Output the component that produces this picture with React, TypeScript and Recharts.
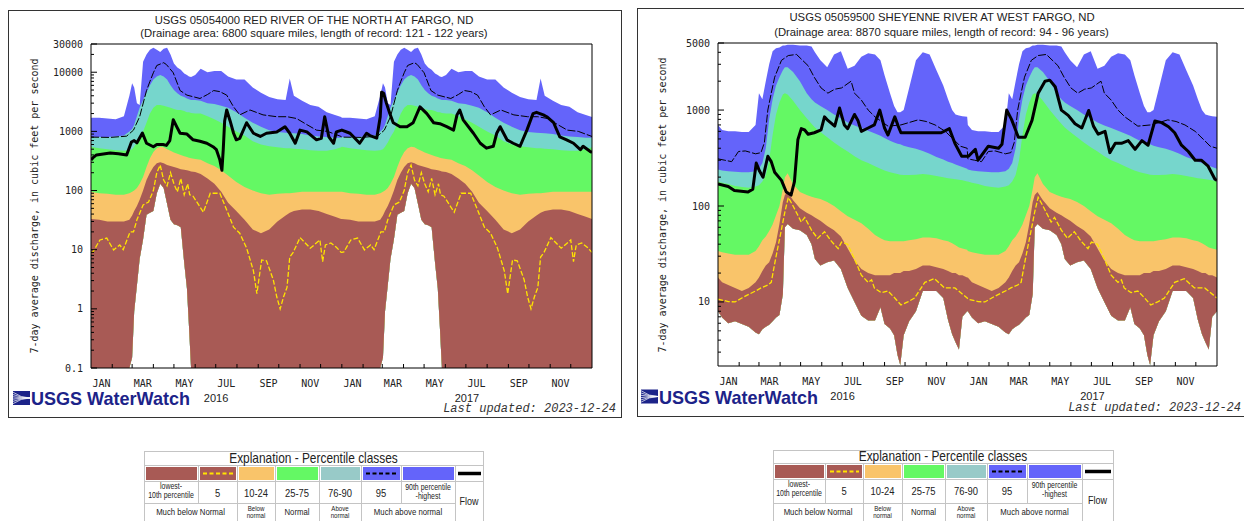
import React from 'react';
import { ComposedChart, Area, Line, XAxis, YAxis, CartesianGrid, ReferenceArea } from 'recharts';

// ---------- calendar ----------
const MONTH_DAYS = [
  [31, 29, 31, 30, 31, 30, 31, 31, 30, 31, 30, 31],
  [31, 28, 31, 30, 31, 30, 31, 31, 30, 31, 30, 31],
];
const MONTH_NAMES = ['JAN', 'FEB', 'MAR', 'APR', 'MAY', 'JUN', 'JUL', 'AUG', 'SEP', 'OCT', 'NOV', 'DEC'];
const YEARS = ['2016', '2017'];

// ---------- Red River of the North at Fargo (05054000) ----------
// day-of-year grid for the daily percentile envelope
const FARGO_DOY = [0, 12, 24, 36, 48, 56, 60, 63, 67, 71, 76, 81, 86, 91, 96, 101, 106, 111, 116, 121, 126, 131, 136, 140, 143, 146, 152, 160, 170, 180, 190, 200, 212, 224, 236, 248, 260, 272, 284, 290, 296, 308, 320, 332, 344, 356, 365];
const FARGO_MIN = [0.1, 0.1, 0.1, 0.1, 0.1, 0.1, 0.15, 0.9, 2.5, 7, 15, 39, 42, 45, 90, 130, 110, 60, 32, 27, 26, 24, 6, 2.2, 0.5, 0.1, 0.1, 0.1, 0.1, 0.1, 0.1, 0.1, 0.1, 0.1, 0.1, 0.1, 0.1, 0.1, 0.1, 0.1, 0.1, 0.1, 0.1, 0.1, 0.1, 0.1, 0.1];
const FARGO_P10 = [33, 32, 30, 30, 30, 32, 38, 45, 55, 70, 100, 150, 200, 250, 290, 300, 290, 270, 260, 250, 240, 230, 225, 220, 215, 210, 205, 190, 160, 130, 95, 62, 45, 32, 22, 19, 22, 30, 38, 42, 45, 48, 48, 45, 40, 36, 33];
const FARGO_P25 = [95, 90, 88, 85, 85, 90, 95, 100, 110, 130, 170, 250, 350, 450, 520, 550, 540, 500, 470, 440, 420, 400, 380, 370, 360, 350, 340, 330, 290, 260, 220, 180, 140, 115, 100, 90, 85, 88, 90, 90, 92, 95, 95, 95, 95, 95, 95];
const FARGO_P75 = [550, 520, 500, 480, 470, 480, 500, 550, 650, 800, 1000, 1400, 2000, 2500, 2800, 2800, 2700, 2600, 2500, 2400, 2300, 2300, 2200, 2100, 2100, 2050, 2000, 2000, 1800, 1600, 1400, 1200, 1000, 850, 680, 600, 560, 540, 520, 520, 510, 500, 480, 470, 470, 500, 540];
const FARGO_P90 = [800, 800, 800, 820, 850, 1000, 1100, 1300, 1800, 2500, 3400, 4500, 6000, 7500, 8500, 9000, 8500, 7500, 6000, 5000, 4400, 4000, 3800, 3600, 3500, 3400, 3400, 3300, 3000, 2900, 2700, 2500, 2100, 1700, 1400, 1200, 1050, 980, 950, 940, 930, 900, 850, 820, 800, 780, 780];
const FARGO_MAX = [1700, 1700, 1650, 1600, 1800, 4000, 6500, 5500, 3000, 2800, 15000, 20000, 24000, 26000, 24000, 22000, 25000, 26000, 20000, 14000, 12000, 11000, 9500, 9000, 8500, 8300, 9000, 11500, 10000, 10500, 10500, 8500, 7500, 7500, 5500, 4500, 3800, 3500, 3400, 7800, 4000, 3300, 2800, 2600, 2100, 1900, 1750];
// [day-of-year, cfs]
const FARGO_P5: [number, number][] = [[0, 9], [3, 9.2], [13, 14.6], [23, 15.7], [33, 9.9], [42, 12], [47, 10], [57, 20], [62, 20], [67, 32], [76, 57], [84, 64], [91, 100], [96, 200], [101, 270], [106, 150], [111, 120], [116, 200], [121, 130], [126, 95], [131, 160], [136, 85], [141, 130], [144, 85], [149, 80], [164, 43], [174, 90], [188, 90], [198, 47], [208, 24], [217, 19], [227, 10.7], [237, 4.4], [242, 1.8], [249, 6.7], [256, 6.5], [266, 3.1], [271, 1.6], [276, 1.0], [281, 1.6], [286, 2.3], [290, 7.5], [295, 9], [305, 16], [320, 10.6], [334, 14.6], [338, 6.3], [342, 12], [350, 13], [358, 11], [365, 9]];
const FARGO_P95: [number, number][] = [[0, 800], [28, 790], [52, 830], [62, 1050], [71, 1770], [81, 4900], [86, 7000], [91, 9800], [96, 13000], [106, 14500], [110, 13500], [120, 9800], [130, 4900], [140, 4100], [159, 3600], [170, 4200], [179, 4900], [188, 4700], [198, 4100], [208, 2600], [217, 1900], [232, 2300], [251, 1900], [271, 1770], [286, 1770], [300, 1650], [315, 1300], [329, 1050], [345, 1000], [365, 820]];
// [day since 2016-01-01, cfs]
const FARGO_FLOW: [number, number][] = [[0, 330], [3, 360], [8, 400], [28, 430], [40, 420], [52, 400], [59, 660], [63, 700], [67, 640], [75, 940], [81, 630], [91, 550], [96, 600], [105, 600], [110, 580], [115, 700], [120, 1570], [125, 1200], [130, 930], [140, 900], [149, 720], [159, 680], [169, 630], [178, 550], [183, 490], [188, 330], [191, 220], [193, 500], [195, 1500], [198, 2300], [203, 1500], [208, 930], [212, 720], [217, 760], [227, 1400], [237, 930], [247, 820], [256, 930], [271, 980], [283, 1200], [290, 930], [298, 630], [305, 1050], [315, 980], [329, 720], [336, 760], [341, 1770], [347, 810], [354, 630], [358, 980], [366, 1050], [378, 930], [392, 630], [402, 930], [407, 850], [417, 770], [422, 1770], [424, 4600], [427, 4400], [431, 3000], [436, 2000], [441, 1400], [451, 1200], [461, 1200], [470, 1400], [480, 2600], [490, 2000], [500, 1400], [509, 1350], [519, 1200], [529, 1050], [534, 1900], [538, 2300], [543, 1570], [558, 930], [568, 630], [577, 520], [587, 560], [592, 930], [597, 1200], [607, 720], [616, 630], [626, 560], [636, 1050], [645, 2000], [650, 2100], [660, 1900], [665, 1770], [675, 1400], [684, 810], [694, 720], [704, 630], [714, 490], [718, 560], [728, 460], [731, 440]];

// ---------- Sheyenne River at West Fargo (05059500) ----------
const WF_DOY = [0, 6, 15, 25, 35, 45, 55, 60, 65, 70, 75, 80, 85, 90, 95, 98, 102, 110, 120, 130, 137, 142, 150, 160, 170, 180, 190, 200, 210, 220, 230, 238, 244, 252, 258, 263, 267, 272, 280, 290, 300, 310, 320, 330, 337, 343, 348, 353, 358, 365];
const WF_MIN = [8, 6.9, 6, 6.3, 5.9, 5.5, 4.8, 4.6, 5.2, 5.5, 5.8, 6.3, 6.9, 7.3, 12, 60, 65, 58, 56, 50, 40, 28, 24, 26, 27, 22, 14, 10, 7.2, 6.4, 6.4, 8.8, 5.9, 5.3, 4.5, 2.8, 2.2, 4.5, 6.3, 8, 13, 13, 13, 11, 6.5, 4.6, 3.8, 3.2, 7, 8];
const WF_P10 = [18, 16, 15, 14, 13, 14, 16, 18, 21, 24, 26, 32, 42, 65, 110, 130, 140, 115, 95, 85, 80, 76, 70, 62, 56, 48, 36, 27, 22, 20, 19, 19, 19, 19, 20, 20, 20, 21, 21, 22, 24, 24, 23, 22, 21, 20, 20, 19, 19, 18];
const WF_P25 = [34, 33, 32, 31, 31, 31, 34, 38, 44, 48, 55, 64, 80, 100, 150, 200, 220, 170, 140, 130, 125, 122, 118, 110, 100, 88, 78, 72, 66, 58, 50, 46, 44, 43, 43, 43, 43, 43, 44, 45, 47, 47, 46, 44, 43, 41, 39, 37, 36, 35];
const WF_P75 = [180, 175, 170, 162, 158, 155, 160, 165, 180, 210, 300, 550, 900, 1200, 1450, 1500, 1450, 1250, 1000, 820, 720, 660, 590, 520, 460, 410, 370, 330, 300, 280, 260, 245, 235, 225, 220, 215, 212, 210, 210, 212, 215, 212, 205, 200, 195, 192, 190, 188, 185, 180];
const WF_P90 = [240, 235, 230, 228, 225, 225, 230, 245, 280, 400, 800, 1300, 1800, 2200, 2600, 2800, 2800, 2500, 2000, 1500, 1300, 1200, 1100, 1000, 900, 820, 740, 690, 650, 610, 570, 540, 510, 480, 460, 445, 440, 425, 410, 395, 375, 350, 325, 305, 290, 280, 270, 262, 255, 245];
const WF_MAX = [700, 620, 600, 600, 590, 590, 700, 1500, 1300, 2000, 3000, 4100, 4400, 4500, 4700, 4700, 4800, 4800, 4700, 4700, 4600, 4000, 3300, 2800, 3800, 4100, 2700, 2900, 3600, 3900, 3800, 3300, 2300, 1500, 1100, 950, 950, 1000, 1700, 3300, 4000, 3800, 2600, 1800, 1300, 1000, 900, 880, 860, 850];
const WF_P5: [number, number][] = [[0, 10.7], [15, 10.1], [25, 10], [35, 11], [45, 12], [55, 13], [63, 14], [73, 15], [78, 16], [83, 25], [88, 38], [93, 57], [98, 87], [103, 123], [110, 100], [117, 80], [122, 68], [127, 76], [137, 56], [146, 46], [156, 54], [166, 43], [176, 36], [181, 42], [190, 40], [200, 28], [210, 19], [220, 16], [225, 17], [229, 14], [239, 12.5], [249, 13], [259, 11], [268, 9.3], [278, 10], [288, 11], [303, 16], [317, 17.5], [332, 14], [347, 14], [365, 11]];
const WF_P95: [number, number][] = [[0, 310], [10, 300], [20, 290], [30, 370], [40, 375], [55, 350], [63, 360], [68, 460], [73, 1000], [78, 1500], [83, 2200], [93, 3300], [103, 3700], [115, 3800], [132, 2900], [141, 2200], [151, 1700], [161, 1500], [171, 1650], [181, 1700], [195, 2000], [200, 1500], [210, 1270], [220, 1000], [230, 850], [249, 680], [268, 700], [293, 790], [305, 760], [318, 700], [333, 600], [347, 480], [355, 420], [365, 400]];
const WF_FLOW: [number, number][] = [[0, 170], [15, 160], [24, 145], [44, 140], [51, 150], [56, 280], [61, 230], [66, 200], [73, 330], [78, 290], [83, 225], [93, 185], [100, 140], [107, 130], [112, 180], [117, 490], [122, 640], [127, 620], [132, 560], [141, 580], [151, 620], [156, 850], [161, 780], [171, 680], [178, 1050], [185, 700], [190, 640], [200, 900], [205, 780], [210, 600], [220, 650], [229, 700], [237, 1000], [244, 650], [249, 550], [259, 850], [264, 680], [268, 580], [288, 580], [307, 580], [327, 580], [339, 640], [347, 450], [357, 330], [367, 330], [377, 390], [381, 300], [396, 420], [411, 400], [416, 440], [423, 1000], [430, 800], [440, 520], [450, 520], [460, 780], [469, 1500], [479, 2000], [486, 2050], [494, 1750], [503, 1000], [513, 880], [523, 720], [533, 650], [543, 990], [550, 680], [557, 560], [567, 600], [574, 360], [582, 450], [591, 450], [601, 480], [611, 390], [621, 480], [630, 430], [640, 770], [650, 740], [660, 670], [669, 580], [679, 430], [689, 370], [699, 300], [708, 300], [718, 260], [728, 190], [731, 185]];

// ---------- axis labels ----------
const FARGO_Y_LABELS = [0.1, 1, 10, 100, 1000, 10000, 30000];
const WF_Y_LABELS = [10, 100, 1000, 5000];

// ---------- colours ----------
const C_BROWN = '#a85a55';
const C_ORANGE = '#f9c46a';
const C_GREEN = '#64f864';
const C_TEAL = '#76d6cc';
const C_BLUE = '#6464fa';
const C_YELLOW = '#ffe400';

const FONT_SANS = "'Liberation Sans', Arial, Helvetica, sans-serif";
const FONT_MONO = "'DejaVu Sans Mono', monospace";
const FONT_COURIER = "'Liberation Mono', 'Courier New', monospace";

// ---------- derived calendar ticks ----------
const YEAR_STARTS: number[] = [];
const MONTH_STARTS: number[] = [];
type XInfo = { kind: 'mark' | 'month' | 'year'; text?: string };
const X_INFO = new Map<number, XInfo>();
let dayAcc = 0;
MONTH_DAYS.forEach((months, yi) => {
  YEAR_STARTS.push(dayAcc);
  months.forEach((len, m) => {
    MONTH_STARTS.push(dayAcc);
    if (dayAcc > 0) X_INFO.set(dayAcc, { kind: 'mark' });
    if (m % 2 === 0) X_INFO.set(dayAcc + len / 2, { kind: 'month', text: MONTH_NAMES[m] });
    dayAcc += len;
  });
  X_INFO.set(YEAR_STARTS[yi] + 182.5, { kind: 'year', text: YEARS[yi] });
});
const TOTAL_DAYS = dayAcc;
const X_TICKS = Array.from(X_INFO.keys()).sort((a, b) => a - b);
const GRID_DAYS = MONTH_STARTS.filter((d) => d > 0 && !YEAR_STARTS.includes(d));
const YEAR_LINES = YEAR_STARTS.filter((d) => d > 0);

function logTicks(lo: number, hi: number, majors: number[]) {
  const out: number[] = [];
  for (let dec = Math.pow(10, Math.floor(Math.log10(lo))); dec < hi; dec *= 10) {
    for (let m = 1; m < 10; m++) {
      const v = dec * m;
      if (v >= lo * 0.999 && v <= hi * 1.001) out.push(v);
    }
  }
  majors.forEach((v) => { if (!out.some((o) => Math.abs(o - v) / v < 1e-6)) out.push(v); });
  return out.sort((a, b) => a - b);
}

// ---------- table builders ----------
function buildBands(doy: number[], mn: number[], p10: number[], p25: number[], p75: number[], p90: number[], mx: number[]) {
  const rows: any[] = [];
  YEAR_STARTS.forEach((start) => {
    doy.forEach((d, i) => {
      rows.push({
        day: start + d,
        blue: [mn[i], mx[i]],
        teal: [mn[i], p90[i]],
        green: [mn[i], p75[i]],
        orange: [mn[i], p25[i]],
        brown: [mn[i], p10[i]],
      });
    });
  });
  return rows;
}
function buildYearly(pairs: [number, number][]) {
  const rows: { day: number; v: number }[] = [];
  YEAR_STARTS.forEach((start) => pairs.forEach(([d, v]) => rows.push({ day: start + d, v })));
  return rows;
}
function buildSeries(pairs: [number, number][]) {
  return pairs.map(([d, v]) => ({ day: d, v }));
}

type Spec = {
  width: number; height: number;
  margin: { top: number; right: number; bottom: number; left: number };
  domain: [number, number];
  yTicks: number[];
  yLabels: number[];
  bands: any[]; p5: any[]; p95: any[]; flow: any[];
};

const FARGO_SPEC: Spec = {
  width: 600, height: 412,
  margin: { top: 44, right: 8, bottom: 14, left: 51 },
  domain: [0.1, 30000],
  yTicks: logTicks(0.1, 30000, FARGO_Y_LABELS),
  yLabels: FARGO_Y_LABELS,
  bands: buildBands(FARGO_DOY, FARGO_MIN, FARGO_P10, FARGO_P25, FARGO_P75, FARGO_P90, FARGO_MAX),
  p5: buildYearly(FARGO_P5),
  p95: buildYearly(FARGO_P95),
  flow: buildSeries(FARGO_FLOW),
};

const WF_SPEC: Spec = {
  width: 600, height: 412,
  margin: { top: 43, right: 13, bottom: 16, left: 48 },
  domain: [2.15, 5000],
  yTicks: logTicks(2.15, 5000, WF_Y_LABELS),
  yLabels: WF_Y_LABELS,
  bands: buildBands(WF_DOY, WF_MIN, WF_P10, WF_P25, WF_P75, WF_P90, WF_MAX),
  p5: buildYearly(WF_P5),
  p95: buildYearly(WF_P95),
  flow: buildSeries(WF_FLOW),
};

// ---------- axis tick renderers ----------
function XTick(props: any) {
  const { x, y, payload } = props;
  const info = X_INFO.get(payload.value);
  if (!info) return <g />;
  if (info.kind === 'mark') return <line x1={x} x2={x} y1={y} y2={y - 4} stroke="#000" strokeWidth={1} />;
  if (info.kind === 'month')
    return <text x={x} y={y + 18.5} textAnchor="middle" fontFamily={FONT_MONO} fontSize={10} fill="#222">{info.text}</text>;
  return <text x={x} y={y + 33.5} textAnchor="middle" fontFamily={FONT_SANS} fontSize={11} fill="#222">{info.text}</text>;
}

function makeYTick(labels: number[]) {
  return (props: any) => {
    const { x, y, payload } = props;
    const major = labels.find((v) => Math.abs(v - payload.value) / v < 1e-6);
    return (
      <g>
        <line x1={x} x2={x + (major !== undefined ? 6 : 3)} y1={y} y2={y} stroke="#000" strokeWidth={1} />
        {major !== undefined && (
          <text x={x - 8} y={y + 3.5} textAnchor="end" fontFamily={FONT_MONO} fontSize={10} fill="#222">{String(major)}</text>
        )}
      </g>
    );
  };
}

// month grid, drawn underneath the percentile chart with the same layout
function GridLayer({ spec }: { spec: Spec }) {
  return (
    <ComposedChart width={spec.width} height={spec.height} data={spec.bands} margin={spec.margin}>
      <CartesianGrid horizontal={false} verticalValues={GRID_DAYS} stroke="#dcdcdc" strokeWidth={2} />
      <CartesianGrid horizontal={false} verticalValues={YEAR_LINES} stroke="#8c8c8c" strokeWidth={2} />
      <XAxis dataKey="day" type="number" domain={[0, TOTAL_DAYS]} allowDataOverflow ticks={GRID_DAYS} interval={0}
        tick={false} tickLine={false} axisLine={false} height={30} />
      <YAxis type="number" scale="log" domain={spec.domain} allowDataOverflow ticks={spec.yTicks}
        tick={false} tickLine={false} axisLine={false} width={40} />
    </ComposedChart>
  );
}

function StationChart({ spec }: { spec: Spec }) {
  const bandDefs = [
    { key: 'blue', color: C_BLUE },
    { key: 'teal', color: C_TEAL },
    { key: 'green', color: C_GREEN },
    { key: 'orange', color: C_ORANGE },
    { key: 'brown', color: C_BROWN },
  ];
  return (
    <ComposedChart width={spec.width} height={spec.height} data={spec.bands} margin={spec.margin}>
      <XAxis dataKey="day" type="number" domain={[0, TOTAL_DAYS]} allowDataOverflow ticks={X_TICKS} interval={0}
        tick={XTick} tickLine={false} axisLine={false} tickSize={0} tickMargin={0} height={30} />
      <YAxis type="number" scale="log" domain={spec.domain} allowDataOverflow ticks={spec.yTicks} interval={0}
        tick={makeYTick(spec.yLabels)} tickLine={false} axisLine={false} tickSize={0} tickMargin={0} width={40} />
      {bandDefs.map((b) => (
        <Area key={b.key} dataKey={b.key} type="linear" fill={b.color} fillOpacity={1} stroke="none"
          isAnimationActive={false} dot={false} activeDot={false} />
      ))}
      <Line data={spec.p5} dataKey="v" type="linear" stroke={C_YELLOW} strokeWidth={1.3} strokeDasharray="5 2"
        dot={false} activeDot={false} isAnimationActive={false} />
      <Line data={spec.p95} dataKey="v" type="linear" stroke="#000" strokeWidth={1} strokeDasharray="8 2"
        dot={false} activeDot={false} isAnimationActive={false} />
      <Line data={spec.flow} dataKey="v" type="linear" stroke="#000" strokeWidth={3} strokeLinejoin="round"
        dot={false} activeDot={false} isAnimationActive={false} />
      <ReferenceArea x1={0} x2={TOTAL_DAYS} y1={spec.domain[0]} y2={spec.domain[1]} fill="none" fillOpacity={0}
        stroke="#000" strokeWidth={1} ifOverflow="visible" zIndex={900} />
    </ComposedChart>
  );
}

// ---------- page decoration ----------
function Logo({ x, y }: { x: number; y: number }) {
  const navy = '#1c2389';
  return (
    <g>
      <rect x={x} y={y} width={17} height={14} fill={navy} />
      {[0, 1, 2, 3, 4, 5].map((i) => (
        <path key={i} d={`M${x} ${y + 1.2 + i * 2.3} Q${x + 8} ${y + 7} ${x + 17} ${y + 7}`} stroke="#fff" strokeWidth={0.7} fill="none" />
      ))}
      <text x={x + 18} y={y + 14} fontFamily={FONT_SANS} fontWeight="bold" fontSize={18.5} fill={navy}
        textLength={159} lengthAdjust="spacingAndGlyphs">USGS WaterWatch</text>
    </g>
  );
}

const LEGEND_FILLS = [C_BROWN, C_BROWN, C_ORANGE, C_GREEN, '#98cac8', C_BLUE, C_BLUE, '#ffffff'];
const LEGEND_TOP: string[][] = [['lowest-', '10th percentile'], ['5'], ['10-24'], ['25-75'], ['76-90'], ['95'], ['90th percentile', '-highest'], ['Flow']];
const LEGEND_BOTTOM: { from: number; to: number; lines: string[] }[] = [
  { from: 0, to: 1, lines: ['Much below Normal'] },
  { from: 2, to: 2, lines: ['Below', 'normal'] },
  { from: 3, to: 3, lines: ['Normal'] },
  { from: 4, to: 4, lines: ['Above', 'normal'] },
  { from: 5, to: 6, lines: ['Much above normal'] },
];

function LText({ x, y, size, sx = 0.82, children }: { x: number; y: number; size: number; sx?: number; children: React.ReactNode }) {
  return (
    <text transform={`translate(${x},${y}) scale(${sx},1)`} textAnchor="middle" fontFamily={FONT_SANS} fontSize={size} fill="#222">
      {children}
    </text>
  );
}

function LegendTable({ x, cols, rows }: { x: number; cols: number[]; rows: number[] }) {
  const edges = [x];
  cols.forEach((w) => edges.push(edges[edges.length - 1] + w));
  const right = edges[edges.length - 1];
  const [top, r1, r2, r3, bottom] = rows;
  const grid = '#c4c4c4';
  const mid = (a: number, b: number) => (edges[a] + edges[b + 1]) / 2;
  const cy = (r1 + r2) / 2;
  return (
    <g>
      <rect x={x + 0.5} y={top + 0.5} width={right - x} height={bottom - top} fill="#fff" stroke={grid} />
      <line x1={x} x2={right} y1={r1 + 0.5} y2={r1 + 0.5} stroke={grid} />
      <line x1={x} x2={right} y1={r2 + 0.5} y2={r2 + 0.5} stroke={grid} />
      <line x1={x} x2={edges[7]} y1={r3 + 0.5} y2={r3 + 0.5} stroke={grid} />
      {edges.slice(1, 8).map((e, i) => (
        <line key={'v' + i} x1={e + 0.5} x2={e + 0.5} y1={r1} y2={[1, 6].includes(i + 1) ? r3 : bottom} stroke={grid} />
      ))}
      {LEGEND_FILLS.map((c, i) => (
        <rect key={'c' + i} x={edges[i] + 2} y={r1 + 2} width={cols[i] - 3} height={r2 - r1 - 3} fill={c} />
      ))}
      <line x1={edges[1] + 5} x2={edges[2] - 4} y1={cy + 0.5} y2={cy + 0.5} stroke={C_YELLOW} strokeWidth={2} strokeDasharray="4 2.5" />
      <line x1={edges[5] + 5} x2={edges[6] - 4} y1={cy + 0.5} y2={cy + 0.5} stroke="#000" strokeWidth={2} strokeDasharray="4 2.5" />
      <line x1={edges[7] + 3} x2={right - 2} y1={cy + 0.5} y2={cy + 0.5} stroke="#000" strokeWidth={3.5} />
      <LText x={(x + right) / 2} y={r1 - 2.5} size={14} sx={0.85}>Explanation - Percentile classes</LText>
      {LEGEND_TOP.map((lines, i) => {
        if (i === 7) return <LText key={'t' + i} x={mid(7, 7)} y={(r2 + bottom) / 2 + 4} size={11}>{lines[0]}</LText>;
        if (lines.length === 2)
          return (
            <g key={'t' + i}>
              <LText x={mid(i, i)} y={r2 + (i === 0 ? 8 : 9)} size={8.5}>{lines[0]}</LText>
              <LText x={mid(i, i)} y={r2 + (i === 0 ? 17 : 17.5)} size={8.5}>{lines[1]}</LText>
            </g>
          );
        return <LText key={'t' + i} x={mid(i, i)} y={r2 + 15.5} size={11.5}>{lines[0]}</LText>;
      })}
      {LEGEND_BOTTOM.map((b, i) =>
        b.lines.length === 2 ? (
          <g key={'b' + i}>
            <LText x={mid(b.from, b.to)} y={r3 + 7.5} size={7.5}>{b.lines[0]}</LText>
            <LText x={mid(b.from, b.to)} y={r3 + 15} size={7.5}>{b.lines[1]}</LText>
          </g>
        ) : (
          <LText key={'b' + i} x={mid(b.from, b.to)} y={r3 + 12} size={9.5}>{b.lines[0]}</LText>
        )
      )}
    </g>
  );
}

const Y_TITLE = '7-day average discharge, in cubic feet per second';

export default function App() {
  return (
    <div style={{ position: 'absolute', left: 0, top: 0, width: 1244, height: 521, background: '#fff', overflow: 'hidden' }}>
      <svg width={1244} height={521} style={{ position: 'absolute', left: 0, top: 0 }}>
        <rect x={8.5} y={10.5} width={613} height={407} fill="#fff" stroke="#333" />
        <rect x={637.5} y={8.5} width={620} height={408} fill="#fff" stroke="#333" />

        <text x={314} y={23.5} textAnchor="middle" fontFamily={FONT_SANS} fontSize={11.3} fill="#222">USGS 05054000 RED RIVER OF THE NORTH AT FARGO, ND</text>
        <text x={314} y={37} textAnchor="middle" fontFamily={FONT_SANS} fontSize={11.3} fill="#222">(Drainage area: 6800 square miles, length of record: 121 - 122 years)</text>
        <text transform="translate(34,206) rotate(-90)" textAnchor="middle" dominantBaseline="central" fontFamily={FONT_MONO} fontSize={10} fill="#222">{Y_TITLE}</text>
        <Logo x={13} y={391} />
        <text x={616} y={412} textAnchor="end" fontFamily={FONT_COURIER} fontStyle="italic" fontSize={12} fill="#333">Last updated: 2023-12-24</text>

        <text x={942} y={21} textAnchor="middle" fontFamily={FONT_SANS} fontSize={11.3} fill="#222">USGS 05059500 SHEYENNE RIVER AT WEST FARGO, ND</text>
        <text x={941.5} y={35.5} textAnchor="middle" fontFamily={FONT_SANS} fontSize={11.3} fill="#222">(Drainage area: 8870 square miles, length of record: 94 - 96 years)</text>
        <text transform="translate(662,205) rotate(-90)" textAnchor="middle" dominantBaseline="central" fontFamily={FONT_MONO} fontSize={10} fill="#222">{Y_TITLE}</text>
        <Logo x={641} y={389.5} />
        <text x={1241} y={410.5} textAnchor="end" fontFamily={FONT_COURIER} fontStyle="italic" fontSize={12} fill="#333">Last updated: 2023-12-24</text>

        <LegendTable x={144} cols={[54, 39, 38, 44, 42, 40, 54, 28]} rows={[451, 465, 481, 503, 521]} />
        <LegendTable x={773} cols={[52, 38, 39, 43, 42, 40, 55, 31]} rows={[450, 463, 479, 503, 521]} />
      </svg>
      <div style={{ position: 'absolute', left: 0, top: 0 }}>
        <GridLayer spec={FARGO_SPEC} />
      </div>
      <div style={{ position: 'absolute', left: 0, top: 0 }}>
        <StationChart spec={FARGO_SPEC} />
      </div>
      <div style={{ position: 'absolute', left: 630, top: 0 }}>
        <GridLayer spec={WF_SPEC} />
      </div>
      <div style={{ position: 'absolute', left: 630, top: 0 }}>
        <StationChart spec={WF_SPEC} />
      </div>
    </div>
  );
}
